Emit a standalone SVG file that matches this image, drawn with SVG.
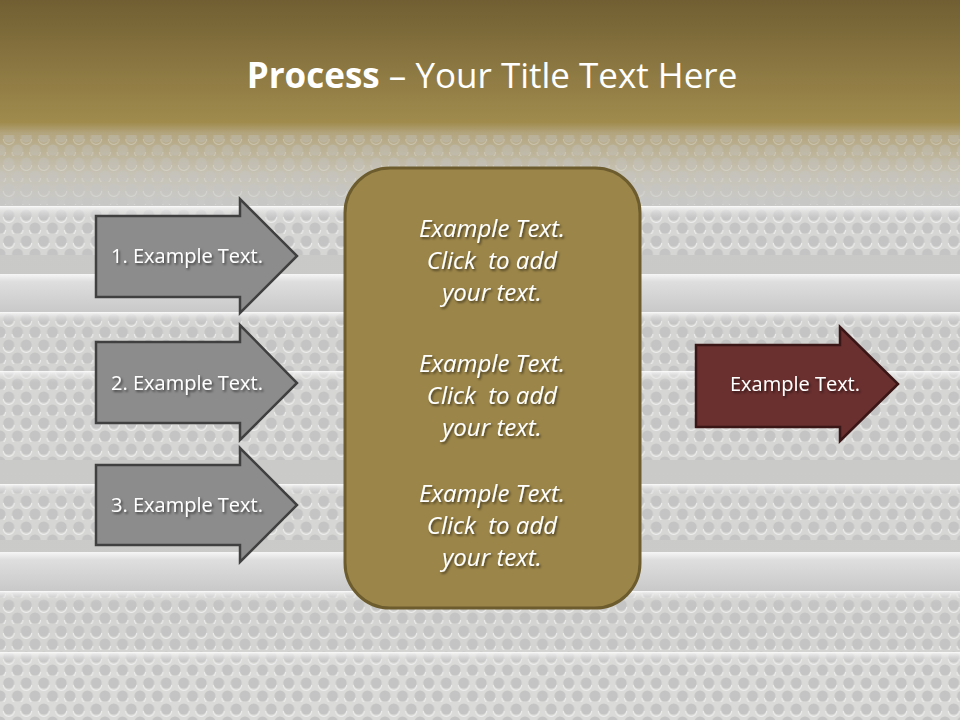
<svg xmlns="http://www.w3.org/2000/svg" width="960" height="720" viewBox="0 0 960 720">
<defs>
<linearGradient id="bg" x1="0" y1="0" x2="0" y2="720" gradientUnits="userSpaceOnUse">
<stop offset="0" stop-color="#715f33"/>
<stop offset="0.17" stop-color="#a08b4d"/>
<stop offset="0.185" stop-color="#b3a57e"/>
<stop offset="0.24" stop-color="#c6c2b4"/>
<stop offset="0.28" stop-color="#c9c9c7"/>
<stop offset="1" stop-color="#cbcbc9"/>
</linearGradient>
<pattern id="dots" x="0" y="0" width="17.5" height="26" patternUnits="userSpaceOnUse">
<circle cx="8.75" cy="7" r="5.5" fill="#c4c4c4"/>
<circle cx="0" cy="20" r="5.5" fill="#c4c4c4"/>
<circle cx="17.5" cy="20" r="5.5" fill="#c4c4c4"/>
<path d="M3.25 9 a5.5 5.5 0 0 0 11 0" fill="none" stroke="#efefef" stroke-width="1"/>
<path d="M-5.5 22 a5.5 5.5 0 0 0 11 0 M12 22 a5.5 5.5 0 0 0 11 0" fill="none" stroke="#efefef" stroke-width="1"/>
</pattern>
<linearGradient id="shine" x1="0" y1="0" x2="0" y2="1">
<stop offset="0" stop-color="#ffffff" stop-opacity="0.95"/>
<stop offset="0.15" stop-color="#f2f2f2" stop-opacity="0.8"/>
<stop offset="1" stop-color="#d0d0d0" stop-opacity="0"/>
</linearGradient>
<linearGradient id="smooth" x1="0" y1="0" x2="0" y2="1">
<stop offset="0" stop-color="#f6f6f6"/>
<stop offset="0.2" stop-color="#dedede"/>
<stop offset="1" stop-color="#c8c8c8"/>
</linearGradient>
<filter id="ts" x="-10%" y="-30%" width="130%" height="170%">
<feDropShadow dx="1.5" dy="1.8" stdDeviation="1.2" flood-color="#000" flood-opacity="0.55"/>
</filter>
<style>
.ga{fill:#8c8c8c;stroke:#404040;stroke-width:2.5;stroke-linejoin:miter}
.ra{fill:#6a2f2f;stroke:#3a1616;stroke-width:2.5}
.lbl{font-family:"Open Sans","Noto Sans",sans-serif;font-size:20px;fill:#ffffff;text-anchor:middle;filter:url(#ts)}
.ct{font-family:"Open Sans","Noto Sans",sans-serif;font-size:24px;font-style:italic;fill:#ffffff;text-anchor:middle;filter:url(#ts);white-space:pre}
</style>
</defs>
<rect x="0" y="0" width="960" height="720" fill="url(#bg)"/>
<g id="background">
<rect x="0" y="135" width="960" height="70" fill="url(#dots)" opacity="0.35"/>
<rect x="0" y="208" width="960" height="47" fill="#d6d6d4"/>
<rect x="0" y="208" width="960" height="47" fill="url(#dots)"/>
<rect x="0" y="206" width="960" height="14" fill="url(#shine)"/>
<rect x="0" y="274" width="960" height="39" fill="url(#smooth)"/>
<rect x="0" y="313" width="960" height="60" fill="#d4d4d2"/>
<rect x="0" y="313" width="960" height="60" fill="url(#dots)"/>
<rect x="0" y="312" width="960" height="12" fill="url(#shine)"/>
<rect x="0" y="372" width="960" height="88" fill="#d6d6d4"/>
<rect x="0" y="372" width="960" height="88" fill="url(#dots)"/>
<rect x="0" y="371" width="960" height="12" fill="url(#shine)"/>
<rect x="0" y="485" width="960" height="55" fill="#d6d6d4"/>
<rect x="0" y="485" width="960" height="55" fill="url(#dots)"/>
<rect x="0" y="484" width="960" height="12" fill="url(#shine)"/>
<rect x="0" y="552" width="960" height="40" fill="url(#smooth)"/>
<rect x="0" y="592" width="960" height="60" fill="#d4d4d2"/>
<rect x="0" y="592" width="960" height="60" fill="url(#dots)"/>
<rect x="0" y="591" width="960" height="12" fill="url(#shine)"/>
<rect x="0" y="653" width="960" height="67" fill="#dadad8"/>
<rect x="0" y="653" width="960" height="67" fill="url(#dots)"/>
<rect x="0" y="652" width="960" height="12" fill="url(#shine)"/>
</g>
<g id="title">
<text x="492" y="88" text-anchor="middle" font-family="Open Sans,'Noto Sans',sans-serif" font-size="35" fill="#ffffff"><tspan font-weight="bold">Process</tspan> – Your Title Text Here</text>
</g>
<g id="connectors"></g>
<g id="step1">
<path class="ga" d="M96 216 H240 V199 L297 256 L240 313 V297 H96 Z"/>
<text class="lbl" x="187" y="263">1. Example Text.</text>
</g>
<g id="step2">
<path class="ga" d="M96 342 H240 V325 L297 383 L240 440 V423 H96 Z"/>
<text class="lbl" x="187" y="390">2. Example Text.</text>
</g>
<g id="step3">
<path class="ga" d="M96 465 H240 V448 L297 505 L240 562 V545 H96 Z"/>
<text class="lbl" x="187" y="512">3. Example Text.</text>
</g>
<g id="center">
<rect x="345" y="168" width="295" height="440" rx="45" ry="45" fill="#9b8548" stroke="#6c5c2e" stroke-width="3"/>
<text class="ct" x="492" y="237">Example Text.</text>
<text class="ct" x="492" y="269">Click  to add</text>
<text class="ct" x="492" y="301">your text.</text>
<text class="ct" x="492" y="372">Example Text.</text>
<text class="ct" x="492" y="404">Click  to add</text>
<text class="ct" x="492" y="436">your text.</text>
<text class="ct" x="492" y="502">Example Text.</text>
<text class="ct" x="492" y="534">Click  to add</text>
<text class="ct" x="492" y="566">your text.</text>
</g>
<g id="result">
<path class="ra" d="M696 345 H840 V327 L898 384 L840 441 V427 H696 Z"/>
<text class="lbl" x="795" y="391">Example Text.</text>
</g>
</svg>
